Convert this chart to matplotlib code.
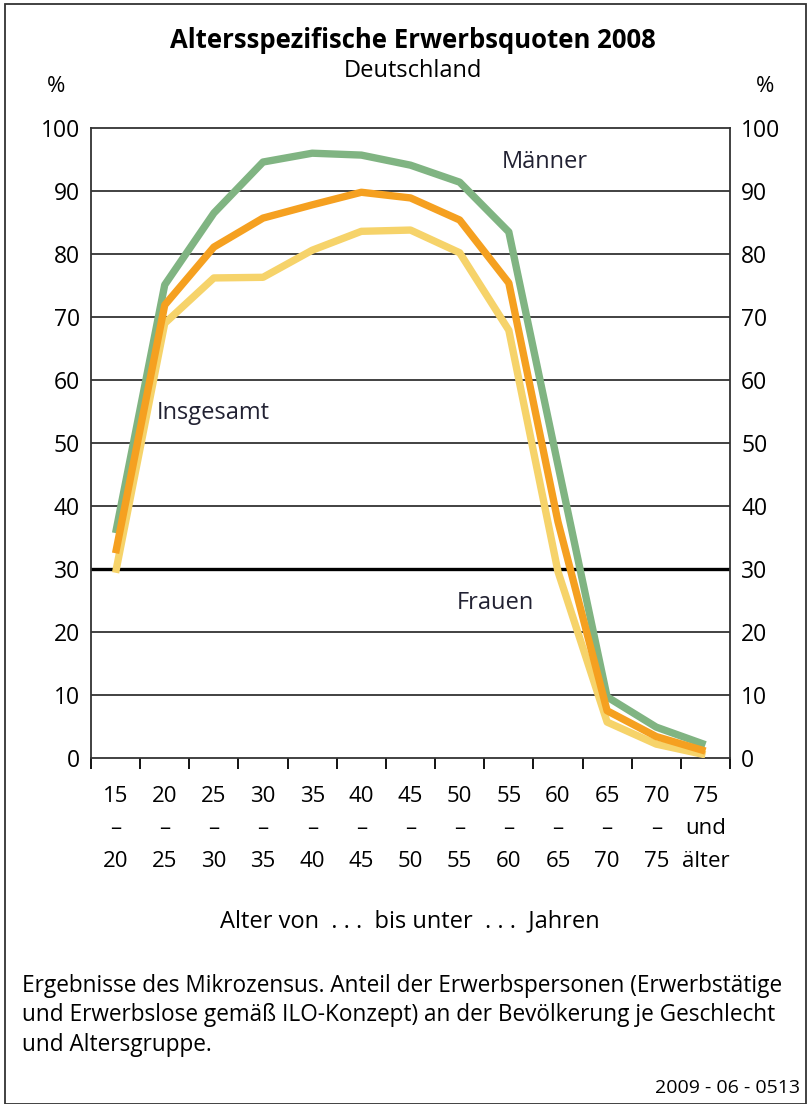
import matplotlib.pyplot as plt
import matplotlib.patches as mpatches
import numpy as np

plt.rcParams['font.family'] = ['Open Sans', 'DejaVu Sans']

# Altersgruppen
age_from = ["15", "20", "25", "30", "35", "40", "45", "50", "55", "60", "65", "70", "75"]
age_to = ["20", "25", "30", "35", "40", "45", "50", "55", "60", "65", "70", "75", "älter"]

# Erwerbsquoten in %
maenner = [35.7, 75.1, 86.5, 94.6, 96.0, 95.7, 94.1, 91.4, 83.5, 46.5, 9.7, 4.9, 2.1]
insgesamt = [32.5, 71.9, 81.1, 85.7, 87.8, 89.8, 88.9, 85.4, 75.4, 37.5, 7.5, 3.4, 1.1]
frauen = [29.4, 69.0, 76.2, 76.3, 80.6, 83.6, 83.8, 80.2, 67.9, 29.6, 5.7, 2.2, 0.5]

col_m = '#80b482'
col_i = '#f5a020'
col_f = '#f6d36a'

fig = plt.figure(figsize=[8.07, 11.04], dpi=100)
ax = fig.add_axes([91 / 807, 1 - 758 / 1104, 639 / 807, 630 / 1104])

x = np.arange(len(age_from))
ax.plot(x, frauen, color=col_f, lw=5.3, solid_capstyle='butt', zorder=3)
ax.plot(x, insgesamt, color=col_i, lw=5.3, solid_capstyle='butt', zorder=4)
ax.plot(x, maenner, color=col_m, lw=5.3, solid_capstyle='butt', zorder=2)

ax.set_xlim(-0.5, len(age_from) - 0.5)
ax.set_ylim(0, 100)

# gridlines, 30 is drawn thicker
ax.set_yticks(np.arange(0, 101, 10))
for v in range(10, 100, 10):
    ax.axhline(v, color='#333333' if v != 30 else 'black', lw=1.3 if v != 30 else 2.4, zorder=1)
ax.tick_params(axis='y', length=0, labelsize=16.5, pad=8, labelright=True)

labels = []
for a, b in zip(age_from, age_to):
    mid = "und" if b == "älter" else "–"
    labels.append(a + "\n" + mid + "\n" + b)
ax.set_xticks(x)
ax.set_xticklabels(labels, fontsize=16, linespacing=1.72)
ax.set_xticks(np.arange(-0.5, len(age_from), 1), minor=True)
ax.tick_params(axis='x', which='major', length=0, pad=20)
ax.tick_params(axis='x', which='minor', length=8, width=1.3, direction='out')

for s in ax.spines.values():
    s.set_linewidth(1.3)
    s.set_color('#333333')

ax.text(8.74, 94.6, "Männer", fontsize=17, ha='center', va='center', color='#222233')
ax.text(1.98, 54.8, "Insgesamt", fontsize=17, ha='center', va='center', color='#222233')
ax.text(7.72, 24.6, "Frauen", fontsize=17, ha='center', va='center', color='#222233')

fig.text(413 / 807, 1 - 40 / 1104, "Altersspezifische Erwerbsquoten 2008", fontsize=18.5,
         fontweight='bold', ha='center', va='center')
fig.text(413 / 807, 1 - 71 / 1104, "Deutschland", fontsize=17, ha='center', va='center')
fig.text(56 / 807, 1 - 86 / 1104, "%", fontsize=16, ha='center', va='center')
fig.text(765 / 807, 1 - 86 / 1104, "%", fontsize=16, ha='center', va='center')
fig.text(410 / 807, 1 - 921 / 1104, "Alter von  . . .  bis unter  . . .  Jahren", fontsize=17,
         ha='center', va='center')
fig.text(22 / 807, 1 - 974 / 1104,
         "Ergebnisse des Mikrozensus. Anteil der Erwerbspersonen (Erwerbstätige\n"
         "und Erwerbslose gemäß ILO-Konzept) an der Bevölkerung je Geschlecht\n"
         "und Altersgruppe.", fontsize=16.3, ha='left', va='top', linespacing=1.3)
fig.text(800 / 807, 1 - 1088 / 1104, "2009 - 06 - 0513", fontsize=14, ha='right', va='center')

fig.patches.append(mpatches.Rectangle((5 / 807, 0), 801 / 807, 1 - 4 / 1104,
                                      transform=fig.transFigure, fill=False,
                                      edgecolor='#333333', lw=1.3))

fig.savefig("out.png")
